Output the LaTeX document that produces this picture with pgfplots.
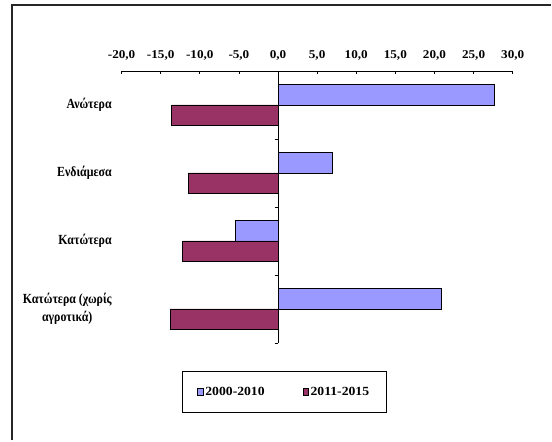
\documentclass[border=0pt]{standalone}
\usepackage{fontspec}
\setmainfont{Liberation Serif}
\newfontfamily\numfont{Liberation Serif}[FakeStretch=1.1]
\newfontfamily\catfont{Liberation Serif}[FakeStretch=0.85]
\usepackage{pgfplots}
\pgfplotsset{compat=1.18}
\definecolor{cblue}{HTML}{9999FF}
\definecolor{cmaroon}{HTML}{993366}
\begin{document}
\begin{tikzpicture}
\path (0,0) rectangle (552bp,441bp);
\draw[line width=1.3bp, black!85] (12bp,0) -- (12bp,436bp) -- (552bp,436bp);
\begin{axis}[
  at={(121.7bp,370bp)}, anchor=north west,
  scale only axis, width=391.6bp, height=272.3bp,
  xmin=-20, xmax=30, ymin=-0.5, ymax=3.5,
  axis x line=top, axis y line=none,
  x axis line style={-, line width=0.6bp},
  xtick={-20,-15,...,30},
  tick align=inside,
  major tick length=3bp,
  xtick style={black, line width=0.6bp},
  xticklabel style={font=\numfont\fontsize{12}{14}\selectfont\bfseries, yshift=7bp},
  /pgf/number format/.cd, assume math mode=true, fixed, fixed zerofill, precision=1, use comma,
  /pgfplots/.cd,
  ytick=\empty,
  xbar, bar width=20.5bp,
  clip=false,
  legend columns=2,
  legend style={at={(0.416,-0.1796)}, anchor=center, draw=black, line width=0.6bp,
    font=\numfont\fontsize{12.5}{14}\selectfont\bfseries,
    inner xsep=15bp, inner ysep=14bp,
    /tikz/every even column/.append style={column sep=36bp}},
  legend image code/.code={\draw[#1, line width=0.5bp] (0bp,-3.5bp) rectangle (5.5bp,3.5bp);},
]
\addplot[fill=cblue, draw=black, line width=0.7bp, bar shift=10.25bp] coordinates {(27.7,3) (6.9,2) (-5.4,1) (20.9,0)};
\addplot[fill=cmaroon, draw=black, line width=0.7bp, bar shift=-10.25bp] coordinates {(-13.6,3) (-11.5,2) (-12.2,1) (-13.8,0)};
\legend{2000-2010, 2011-2015}
\draw[line width=0.6bp] (axis cs:0,3.5) -- (axis cs:0,-0.5);
\draw[line width=0.6bp] ([xshift=-3.5bp]axis cs:0,2.5) -- (axis cs:0,2.5);
\draw[line width=0.6bp] ([xshift=-3.5bp]axis cs:0,1.5) -- (axis cs:0,1.5);
\draw[line width=0.6bp] ([xshift=-3.5bp]axis cs:0,0.5) -- (axis cs:0,0.5);
\draw[line width=0.6bp] ([xshift=-3.5bp]axis cs:0,-0.5) -- (axis cs:0,-0.5);
\node[anchor=east, align=center, inner sep=0pt, font=\catfont\fontsize{14}{18}\selectfont\bfseries] at ([xshift=-9.7bp]axis cs:-20,3) {Ανώτερα};
\node[anchor=east, align=center, inner sep=0pt, font=\catfont\fontsize{14}{18}\selectfont\bfseries] at ([xshift=-9.7bp]axis cs:-20,2) {Ενδιάμεσα};
\node[anchor=east, align=center, inner sep=0pt, font=\catfont\fontsize{14}{18}\selectfont\bfseries] at ([xshift=-9.7bp]axis cs:-20,1) {Κατώτερα};
\node[anchor=east, align=center, inner sep=0pt, font=\catfont\fontsize{14}{18}\selectfont\bfseries] at ([xshift=-9.7bp]axis cs:-20,0) {Κατώτερα (χωρίς\\αγροτικά)};
\end{axis}
\end{tikzpicture}
\end{document}
